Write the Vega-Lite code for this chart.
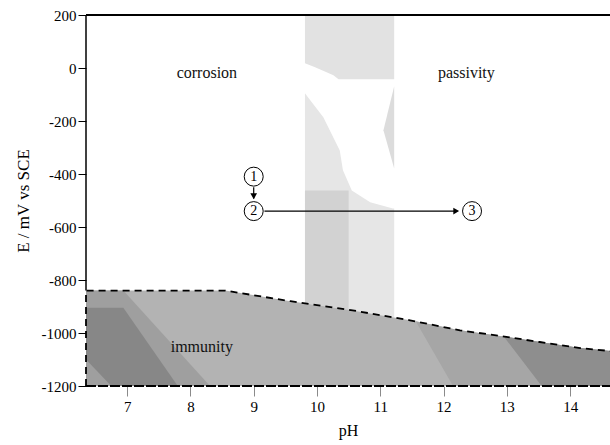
{
  "$schema": "https://vega.github.io/schema/vega-lite/v6.json",
  "width": 524,
  "height": 371,
  "autosize": {"type": "none"},
  "padding": {"left": 86, "top": 15, "right": 0, "bottom": 59},
  "background": "white",
  "config": {"view": {"stroke": null}, "font": "Liberation Serif"},
  "datasets": {
    "band1": [
      {"pH": 9.81, "E": 200, "E2": 18},
      {"pH": 9.97, "E": 200, "E2": 3},
      {"pH": 10.26, "E": 200, "E2": -27},
      {"pH": 10.34, "E": 200, "E2": -42},
      {"pH": 11.22, "E": 200, "E2": -42}
    ],
    "band2": [
      {"pH": 9.81, "E": -95, "E2": -888},
      {"pH": 9.86, "E": -111, "E2": -890},
      {"pH": 10.1, "E": -186, "E2": -898},
      {"pH": 10.36, "E": -311, "E2": -907},
      {"pH": 10.41, "E": -386, "E2": -909},
      {"pH": 10.55, "E": -462, "E2": -914},
      {"pH": 10.84, "E": -507, "E2": -926},
      {"pH": 11.2, "E": -530, "E2": -941},
      {"pH": 11.22, "E": -530, "E2": -942}
    ],
    "band3": [
      {"pH": 9.81, "E": -462, "E2": -888},
      {"pH": 10.5, "E": -462, "E2": -912}
    ],
    "band4": [
      {"pH": 11.05, "E": -235, "E2": -235},
      {"pH": 11.22, "E": -69, "E2": -379}
    ],
    "imm": [
      {"pH": 6.35, "E": -840, "E2": -1200},
      {"pH": 8.55, "E": -840, "E2": -1200},
      {"pH": 9.58, "E": -880, "E2": -1200},
      {"pH": 10.5, "E": -912, "E2": -1200},
      {"pH": 11.47, "E": -952, "E2": -1200},
      {"pH": 12.26, "E": -990, "E2": -1200},
      {"pH": 12.89, "E": -1011, "E2": -1200},
      {"pH": 13.52, "E": -1034, "E2": -1200},
      {"pH": 14.16, "E": -1057, "E2": -1200},
      {"pH": 14.63, "E": -1068, "E2": -1200}
    ],
    "immL1": [
      {"pH": 6.35, "E": -840, "E2": -1200},
      {"pH": 6.94, "E": -840, "E2": -1200},
      {"pH": 8.31, "E": -1200, "E2": -1200}
    ],
    "immL2": [
      {"pH": 6.35, "E": -905, "E2": -1100},
      {"pH": 6.75, "E": -905, "E2": -1200},
      {"pH": 6.94, "E": -905, "E2": -1200},
      {"pH": 7.8, "E": -1200, "E2": -1200}
    ],
    "immR1": [
      {"pH": 11.56, "E": -956, "E2": -956},
      {"pH": 12.15, "E": -985, "E2": -1200},
      {"pH": 12.26, "E": -990, "E2": -1200},
      {"pH": 12.89, "E": -1011, "E2": -1200},
      {"pH": 13.52, "E": -1034, "E2": -1200},
      {"pH": 14.16, "E": -1057, "E2": -1200},
      {"pH": 14.63, "E": -1068, "E2": -1200}
    ],
    "immR2": [
      {"pH": 12.95, "E": -1013, "E2": -1013},
      {"pH": 13.52, "E": -1034, "E2": -1191},
      {"pH": 13.55, "E": -1035, "E2": -1200},
      {"pH": 14.16, "E": -1057, "E2": -1200},
      {"pH": 14.63, "E": -1068, "E2": -1200}
    ],
    "boundary": [
      {"pH": 6.35, "E": -1200, "o": 0},
      {"pH": 6.35, "E": -840, "o": 1},
      {"pH": 8.55, "E": -840, "o": 2},
      {"pH": 9.58, "E": -880, "o": 3},
      {"pH": 10.5, "E": -912, "o": 4},
      {"pH": 11.47, "E": -952, "o": 5},
      {"pH": 12.26, "E": -990, "o": 6},
      {"pH": 12.89, "E": -1011, "o": 7},
      {"pH": 13.52, "E": -1034, "o": 8},
      {"pH": 14.16, "E": -1057, "o": 9},
      {"pH": 14.63, "E": -1068, "o": 10}
    ],
    "hrules": [
      {"pH": 6.35, "pH2": 14.63, "E": 200}
    ],
    "bottom": [
      {"pH": 6.35, "pH2": 14.63, "E": -1200}
    ],
    "vrules": [
      {"pH": 6.35, "E": 200, "E2": -840}
    ],
    "arrowV": [
      {"pH": 9.0, "E": -450, "E2": -492}
    ],
    "arrowH": [
      {"pH": 9.17, "pH2": 12.22, "E": -540}
    ],
    "headDown": [
      {"pH": 9.0, "E": -484}
    ],
    "headRight": [
      {"pH": 12.2, "E": -540}
    ],
    "states": [
      {"pH": 9.0, "E": -410, "label": "1"},
      {"pH": 9.0, "E": -540, "label": "2"},
      {"pH": 12.45, "E": -540, "label": "3"}
    ],
    "regions": [
      {"pH": 8.26, "E": -20, "label": "corrosion"},
      {"pH": 12.36, "E": -20, "label": "passivity"},
      {"pH": 8.18, "E": -1051, "label": "immunity"}
    ]
  },
  "encoding": {
    "x": {
      "field": "pH",
      "type": "quantitative",
      "scale": {"domain": [6.35, 14.63], "nice": false, "zero": false},
      "axis": {
        "title": "pH",
        "values": [7, 8, 9, 10, 11, 12, 13, 14],
        "labelExpr": "'' + datum.value",
        "domain": false,
        "grid": false,
        "tickColor": "#8a8a8a",
        "tickSize": 10,
        "labelPadding": 3,
        "labelFont": "Liberation Serif",
        "labelFontSize": 15,
        "labelColor": "black",
        "titleFont": "Liberation Serif",
        "titleFontSize": 16,
        "titleFontWeight": "normal",
        "titleColor": "black",
        "titlePadding": 8
      }
    },
    "y": {
      "field": "E",
      "type": "quantitative",
      "stack": null,
      "scale": {"domain": [-1200, 200], "nice": false, "zero": false},
      "axis": {
        "title": "E / mV vs SCE",
        "values": [200, 0, -200, -400, -600, -800, -1000, -1200],
        "labelExpr": "'' + datum.value",
        "domain": false,
        "grid": false,
        "tickColor": "black",
        "tickSize": 8,
        "labelPadding": 2,
        "labelFont": "Liberation Serif",
        "labelFontSize": 15,
        "labelColor": "black",
        "titleFont": "Liberation Serif",
        "titleFontSize": 17,
        "titleFontWeight": "normal",
        "titleColor": "black",
        "titlePadding": 9
      }
    }
  },
  "layer": [
    {"data": {"name": "band1"}, "mark": {"type": "area", "color": "#e2e2e2", "opacity": 1}, "encoding": {"y2": {"field": "E2"}}},
    {"data": {"name": "band2"}, "mark": {"type": "area", "color": "#e6e6e6", "opacity": 1}, "encoding": {"y2": {"field": "E2"}}},
    {"data": {"name": "band3"}, "mark": {"type": "area", "color": "#d2d2d2", "opacity": 1}, "encoding": {"y2": {"field": "E2"}}},
    {"data": {"name": "band4"}, "mark": {"type": "area", "color": "#dcdcdc", "opacity": 1}, "encoding": {"y2": {"field": "E2"}}},
    {"data": {"name": "imm"}, "mark": {"type": "area", "color": "#b3b3b3", "opacity": 1}, "encoding": {"y2": {"field": "E2"}}},
    {"data": {"name": "immL1"}, "mark": {"type": "area", "color": "#9f9f9f", "opacity": 1}, "encoding": {"y2": {"field": "E2"}}},
    {"data": {"name": "immL2"}, "mark": {"type": "area", "color": "#878787", "opacity": 1}, "encoding": {"y2": {"field": "E2"}}},
    {"data": {"name": "immR1"}, "mark": {"type": "area", "color": "#a6a6a6", "opacity": 1}, "encoding": {"y2": {"field": "E2"}}},
    {"data": {"name": "immR2"}, "mark": {"type": "area", "color": "#8e8e8e", "opacity": 1}, "encoding": {"y2": {"field": "E2"}}},
    {"data": {"name": "boundary"}, "mark": {"type": "line", "color": "black", "strokeWidth": 1.8, "strokeDash": [7, 5]}, "encoding": {"order": {"field": "o", "type": "quantitative"}}},
    {"data": {"name": "bottom"}, "mark": {"type": "rule", "color": "black", "strokeWidth": 2, "strokeDash": [10, 2]}, "encoding": {"x2": {"field": "pH2"}}},
    {"data": {"name": "hrules"}, "mark": {"type": "rule", "color": "black", "strokeWidth": 2}, "encoding": {"x2": {"field": "pH2"}}},
    {"data": {"name": "vrules"}, "mark": {"type": "rule", "color": "black", "strokeWidth": 1.5}, "encoding": {"y2": {"field": "E2"}}},
    {"data": {"name": "arrowV"}, "mark": {"type": "rule", "color": "black", "strokeWidth": 1.2}, "encoding": {"y2": {"field": "E2"}}},
    {"data": {"name": "arrowH"}, "mark": {"type": "rule", "color": "black", "strokeWidth": 1.2}, "encoding": {"x2": {"field": "pH2"}}},
    {"data": {"name": "headDown"}, "mark": {"type": "point", "shape": "triangle-down", "filled": true, "color": "black", "size": 45, "opacity": 1}},
    {"data": {"name": "headRight"}, "mark": {"type": "point", "shape": "triangle-right", "filled": true, "color": "black", "size": 45, "opacity": 1}},
    {"data": {"name": "states"}, "mark": {"type": "point", "shape": "circle", "filled": true, "fill": "white", "stroke": "black", "strokeWidth": 1, "size": 360, "opacity": 1}},
    {"data": {"name": "states"}, "mark": {"type": "text", "font": "Liberation Serif", "fontSize": 14, "color": "black", "baseline": "middle", "align": "center"}, "encoding": {"text": {"field": "label"}}},
    {"data": {"name": "regions"}, "mark": {"type": "text", "font": "Liberation Serif", "fontSize": 16, "color": "#111", "baseline": "middle", "align": "center"}, "encoding": {"text": {"field": "label"}}}
  ]
}
